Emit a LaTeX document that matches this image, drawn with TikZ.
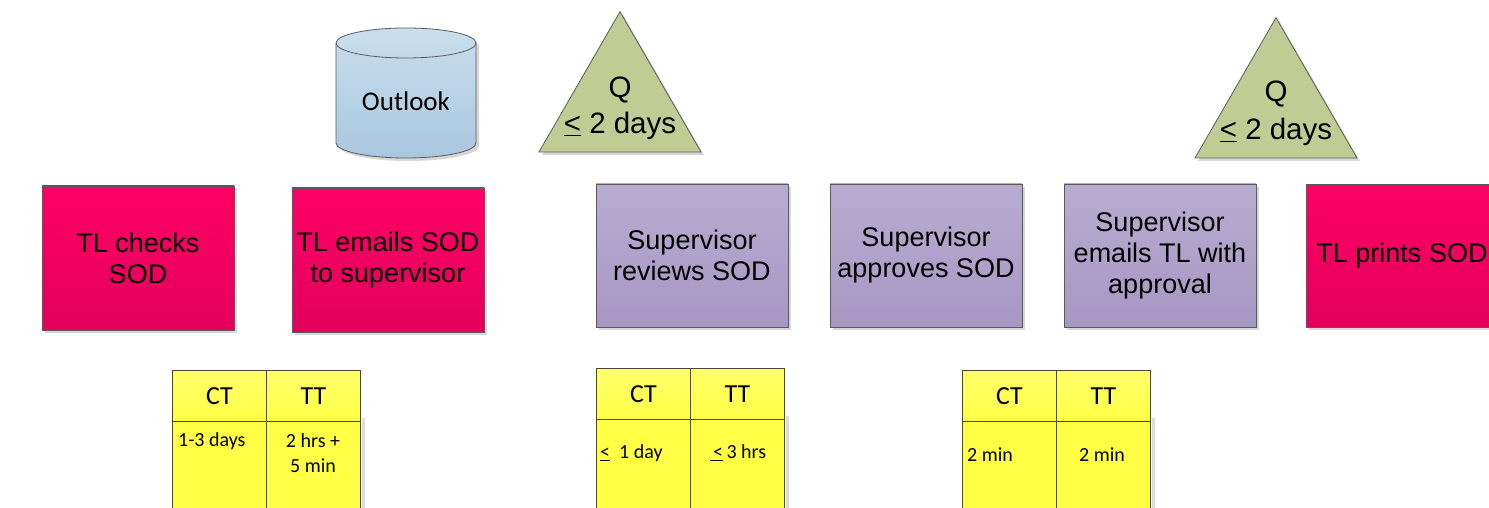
\documentclass[tikz,border=0pt]{standalone}
\usepackage{fontspec}
\setmainfont{Liberation Sans}
\newfontfamily\calfont{Carlito}
\usetikzlibrary{shapes.geometric,shadows}

\definecolor{pinktop}{HTML}{FF0066}
\definecolor{pinkbot}{HTML}{E2005B}
\definecolor{purptop}{HTML}{B8ADD1}
\definecolor{purpbot}{HTML}{A797C3}
\definecolor{bluetop}{HTML}{CADEEC}
\definecolor{bluebot}{HTML}{A9C7E0}
\definecolor{greenfill}{HTML}{C0CC93}
\definecolor{yelltop}{HTML}{FFFF6A}
\definecolor{yellbot}{HTML}{FFFF45}
\definecolor{edgegray}{HTML}{5A5A5A}
\definecolor{tabline}{HTML}{4A4A30}

\tikzset{
  softshadow/.style={drop shadow={shadow xshift=3pt,shadow yshift=-3pt,fill=black!35,opacity=.45}},
  procbox/.style={draw=edgegray,line width=0.8pt,minimum width=192pt,minimum height=144pt,
    inner sep=0pt,align=center,font=\fontsize{27}{31}\selectfont,softshadow},
  tlbox/.style={procbox,top color=pinktop,bottom color=pinkbot},
  supbox/.style={procbox,top color=purptop,bottom color=purpbot,minimum height=143pt},
  queue/.style={regular polygon,regular polygon sides=3,minimum size=187pt,inner sep=0pt,
    draw=edgegray,line width=0.8pt,fill=greenfill,softshadow},
  qtext/.style={font=\fontsize{29.5}{33}\selectfont,inner sep=0pt},
  hdrcell/.style={draw=tabline,line width=1pt,top color=yelltop,bottom color=yellbot,
    minimum width=94pt,minimum height=51pt,inner sep=0pt,font=\calfont\fontsize{26}{30}\selectfont},
  bodycell/.style={draw=tabline,line width=1pt,fill=yellbot,minimum width=94pt,
    minimum height=120pt,inner sep=0pt},
  celltext/.style={font=\calfont\fontsize{20}{25}\selectfont,inner sep=0pt,align=center},
}

\begin{document}
\begin{tikzpicture}[x=1pt,y=1pt]
\useasboundingbox (0,0) rectangle (1489,508);

% process steps
\node[tlbox]  (check)   at (138,250)   {TL checks\\SOD};
\node[tlbox]  (email)   at (388,248)   {TL emails SOD\\to supervisor};
\node[supbox] (review)  at (692,252.5) {Supervisor\\reviews SOD};
\node[supbox] (approve) at (926,252.5) {Supervisor\\approves SOD};
\node[supbox] (reply)   at (1160,252.5){Supervisor\\emails TL with\\approval};
\node[tlbox,minimum height=143pt] (print) at (1402,252) {TL prints SOD};

% data store
\fill[black!35,opacity=.45,shift={(3pt,-3pt)}]
  (336,465) -- (336,365) arc[start angle=180,end angle=360,x radius=70,y radius=15]
  -- (476,465) arc[start angle=0,end angle=180,x radius=70,y radius=15] -- cycle;
\path[draw=edgegray,line width=0.8pt,top color=bluetop,bottom color=bluebot]
  (336,465) -- (336,365) arc[start angle=180,end angle=360,x radius=70,y radius=15]
  -- (476,465) arc[start angle=0,end angle=180,x radius=70,y radius=15] -- cycle;
\draw[edgegray,line width=0.8pt] (336,465) arc[start angle=180,end angle=360,x radius=70,y radius=15];
\node[font=\calfont\fontsize{27}{30}\selectfont,inner sep=0pt] (outlook) at (406,407) {Outlook};

% queues
\node[queue] (q1) at (620,402.8) {};
\node[qtext] (q1a) at (620,418) {Q};
\node[qtext] (q1b) at (620,382) {\underline{<} 2 days};
\node[queue] (q2) at (1276,396.8) {};
\node[qtext] (q2a) at (1276,414) {Q};
\node[qtext] (q2b) at (1276,376) {\underline{<} 2 days};

% timing tables
\foreach \n/\x/\t in {ta/172/138, tb/596/140, tc/962/138}{
  \fill[black!30,opacity=.45] (\x+190,\t-48) rectangle (\x+193,-10);
  \node[bodycell,anchor=north west] (\n ctb) at (\x,\t-51) {};
  \node[bodycell,anchor=north west] (\n ttb) at (\x+94,\t-51) {};
  \node[hdrcell,anchor=north west]  (\n cth) at (\x,\t) {CT};
  \node[hdrcell,anchor=north west]  (\n tth) at (\x+94,\t) {TT};
}

\node[celltext,anchor=west] (ta1) at (178,67) {1-3 days};
\node[celltext] (ta2) at (313,54.5) {2 hrs +\\5 min};
\node[celltext,anchor=west] (tb1) at (600,55) {\underline{<}\ \ 1 day};
\node[celltext] (tb2) at (738,55) {\underline{\,<}\,3 hrs};
\node[celltext,anchor=west] (tc1) at (967,53) {2 min};
\node[celltext] (tc2) at (1102,53) {2 min};
\end{tikzpicture}
\end{document}
